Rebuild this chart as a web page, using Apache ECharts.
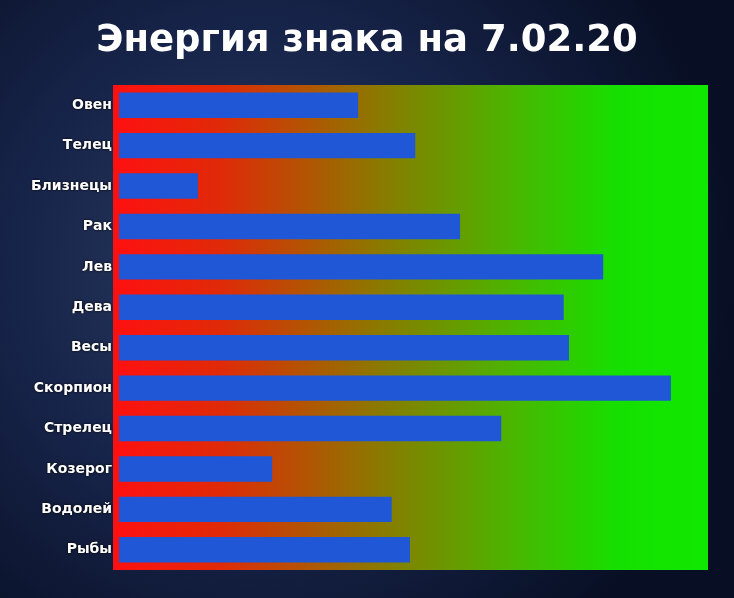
<!DOCTYPE html>
<html><head><meta charset="utf-8">
<script src="https://cdn.jsdelivr.net/npm/echarts@6/dist/echarts.min.js"></script>
<style>html,body{margin:0;padding:0;background:#0b1630}#c{width:734px;height:598px}</style>
</head><body><div id="c"></div>
<script>
const categories = ['Овен','Телец','Близнецы','Рак','Лев','Дева','Весы','Скорпион','Стрелец','Козерог','Водолей','Рыбы'];
const values = [40.6,50.3,13.4,57.9,82.2,75.5,76.4,93.7,64.9,26.0,46.3,49.4];
const titleText = 'Энергия знака на 7.02.20';
const chart = echarts.init(document.getElementById('c'));
chart.setOption({
  backgroundColor: new echarts.graphic.RadialGradient(0.35,0.45,0.8,[
    {offset:0,color:'#2c3d63'},{offset:0.5,color:'#17244a'},{offset:1,color:'#080f24'}]),
  title:{text:titleText,left:'center',top:18,textStyle:{color:'#fff',fontSize:37,fontWeight:'bold',fontFamily:'DejaVu Sans'}},
  graphic:[{type:'rect',z:-1,shape:{x:113,y:85,width:595,height:485},
    style:{fill:new echarts.graphic.LinearGradient(0,0,1,0,[
      {offset:0,color:'#ff1010'},{offset:0.18,color:'#e02a08'},{offset:0.45,color:'#8a7a00'},
      {offset:0.68,color:'#48b800'},{offset:0.85,color:'#15e000'},{offset:1,color:'#10e800'}])}}],
  grid:{left:119,width:589,top:85,bottom:28},
  xAxis:{type:'value',min:0,max:100,show:false},
  yAxis:{type:'category',data:categories,inverse:true,
    axisLine:{show:false},axisTick:{show:false},
    axisLabel:{color:'#fff',fontWeight:'bold',fontSize:14,fontFamily:'DejaVu Sans',margin:7,
      textShadowColor:'#000',textShadowBlur:3}},
  series:[{type:'bar',data:values,barWidth:'63%',itemStyle:{color:'#1f57d6'},silent:true}],
  animation:false
});
</script></body></html>
